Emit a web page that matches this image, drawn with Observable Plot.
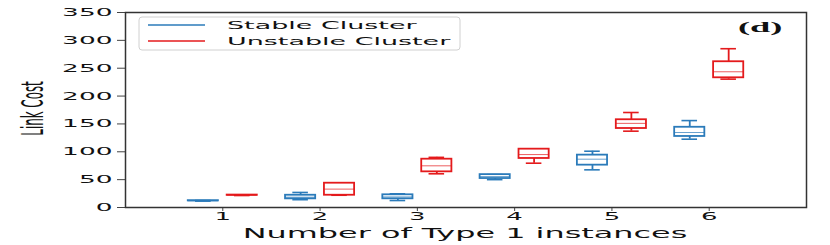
<!DOCTYPE html>
<html>
<head>
<meta charset="utf-8">
<script src="https://cdn.jsdelivr.net/npm/d3@7"></script>
<script src="https://cdn.jsdelivr.net/npm/@observablehq/plot@0.6"></script>
<style>
  html, body { margin: 0; padding: 0; background: #fff; }
  #chart svg { display: block; }
</style>
</head>
<body>
<div id="chart"></div>
<script>
// ---- data ----
const groups = [1, 2, 3, 4, 5, 6];
const xTicks = [1, 2, 3, 4, 5, 6];
const yTicks = [0, 50, 100, 150, 200, 250, 300, 350];
const seriesNames = ["Stable Cluster", "Unstable Cluster"];
const seriesColors = ["#2b7bba", "#e41a1c"];

// [whisker low, q1, median, q3, whisker high]
const stableStats = [
  [11.5, 11.8, 12, 12.3, 12.5],
  [14, 15.5, 18.5, 22, 27],
  [12.5, 15.6, 19, 22.8, 24.6],
  [50, 52, 55.5, 59, 59],
  [67.6, 76, 86.7, 94, 101],
  [122.6, 127.5, 134.6, 144, 156]
];
const unstableStats = [
  [21.5, 21.8, 22, 22.3, 22.5],
  [22, 22, 33, 43.6, 43.6],
  [60.5, 64, 74.8, 86.7, 90],
  [79.5, 88, 95, 104.7, 104.7],
  [137, 141.8, 151, 157.5, 170.5],
  [230.4, 232.8, 243.6, 261.6, 285]
];

const titleText = "(d)";
const xLabel = "Number of Type 1 instances";
const yLabel = "Link Cost";

// ---- build table ----
const offsets = [-0.2, 0.2];
const rows = [];
[stableStats, unstableStats].forEach((stats, si) => {
  stats.forEach((s, gi) => {
    rows.push({
      series: seriesNames[si],
      c: groups[gi] + offsets[si],
      lo: s[0], q1: s[1], med: s[2], q3: s[3], hi: s[4]
    });
  });
});

const boxHalf = 0.155, capHalf = 0.08;
const color = {domain: seriesNames, range: seriesColors};

const chart = Plot.plot({
  width: 830,
  height: 245,
  marginLeft: 125,
  marginRight: 24,
  marginTop: 12,
  marginBottom: 38,
  style: {fontFamily: "DejaVu Sans", fontSize: "11px", color: "#111", background: "#fff"},
  x: {domain: [0, 7], ticks: xTicks, tickSize: 4, tickPadding: 1, label: null, tickFormat: d => String(d)},
  y: {domain: [0, 350], ticks: yTicks, tickSize: 8, tickPadding: 5, label: null},
  color,
  marks: [
    // whiskers
    Plot.ruleX(rows, {x: "c", y1: "q3", y2: "hi", stroke: "series", strokeWidth: 1.8}),
    Plot.ruleX(rows, {x: "c", y1: "lo", y2: "q1", stroke: "series", strokeWidth: 1.8}),
    // caps
    Plot.ruleY(rows, {y: "hi", x1: d => d.c - capHalf, x2: d => d.c + capHalf, stroke: "series", strokeWidth: 1.6}),
    Plot.ruleY(rows, {y: "lo", x1: d => d.c - capHalf, x2: d => d.c + capHalf, stroke: "series", strokeWidth: 1.6}),
    // boxes
    Plot.rect(rows, {x1: d => d.c - boxHalf, x2: d => d.c + boxHalf, y1: "q1", y2: "q3", stroke: "series", fill: "#fff", strokeWidth: 1.8}),
    // medians
    Plot.ruleY(rows, {y: "med", x1: d => d.c - boxHalf, x2: d => d.c + boxHalf, stroke: "series", strokeWidth: 1, strokeOpacity: 0.7}),
    Plot.frame({stroke: "#333", strokeWidth: 1.5})
  ]
});

document.getElementById("chart").appendChild(chart);

// ---- stretch tick labels horizontally (as in the reference) ----
const svg = d3.select(chart);
function stretch(sel, sx) {
  sel.each(function () {
    const el = d3.select(this);
    const xa = el.attr("x");
    let x = 0;
    if (xa && !/em$/.test(xa)) { const v = parseFloat(xa); if (!isNaN(v)) x = v; }
    const t = el.attr("transform") || "";
    el.attr("transform", `${t} translate(${x},0) scale(${sx},1) translate(${-x},0)`);
  });
}
stretch(svg.selectAll('g[aria-label="y-axis tick label"] text'), 2.4);
svg.selectAll('g[aria-label="x-axis tick label"] text').attr("font-size", 10);
stretch(svg.selectAll('g[aria-label="x-axis tick label"] text'), 2.6);
svg.selectAll('g[aria-label$="tick"] path, g[aria-label$="tick"] line').attr("stroke", "#444");

// ---- axis labels ----
svg.append("text")
  .attr("text-anchor", "middle")
  .attr("font-family", "DejaVu Sans")
  .attr("font-size", 14.5)
  .attr("fill", "#111")
  .attr("transform", "translate(465,237.5) scale(2.2,1)")
  .text(xLabel);

svg.append("text")
  .attr("text-anchor", "middle")
  .attr("font-family", "DejaVu Sans")
  .attr("font-stretch", "condensed")
  .attr("font-size", 20)
  .attr("fill", "#111")
  .attr("transform", "translate(43,108.5) rotate(-90) scale(0.66,1.5)")
  .text(yLabel);

// ---- panel tag ----
svg.append("text")
  .attr("text-anchor", "start")
  .attr("font-family", "Liberation Serif")
  .attr("font-weight", "bold")
  .attr("font-size", 14)
  .attr("fill", "#111")
  .attr("transform", "translate(738,32) scale(2.6,1)")
  .text(titleText);

// ---- legend ----
const lg = svg.append("g");
lg.append("rect")
  .attr("x", 139).attr("y", 17).attr("width", 321).attr("height", 33)
  .attr("rx", 3).attr("fill", "#fff").attr("fill-opacity", 0.8)
  .attr("stroke", "#d0d0d0").attr("stroke-width", 1);
seriesNames.forEach((name, i) => {
  const yy = 25 + i * 16;
  lg.append("line")
    .attr("x1", 148).attr("x2", 205).attr("y1", yy).attr("y2", yy)
    .attr("stroke", seriesColors[i]).attr("stroke-width", 1.3);
  lg.append("text")
    .attr("text-anchor", "start")
    .attr("font-family", "DejaVu Sans")
    .attr("font-size", 11)
    .attr("fill", "#111")
    .attr("transform", `translate(227,${yy + 4}) scale(2.45,1)`)
    .text(name);
});
</script>
</body>
</html>
